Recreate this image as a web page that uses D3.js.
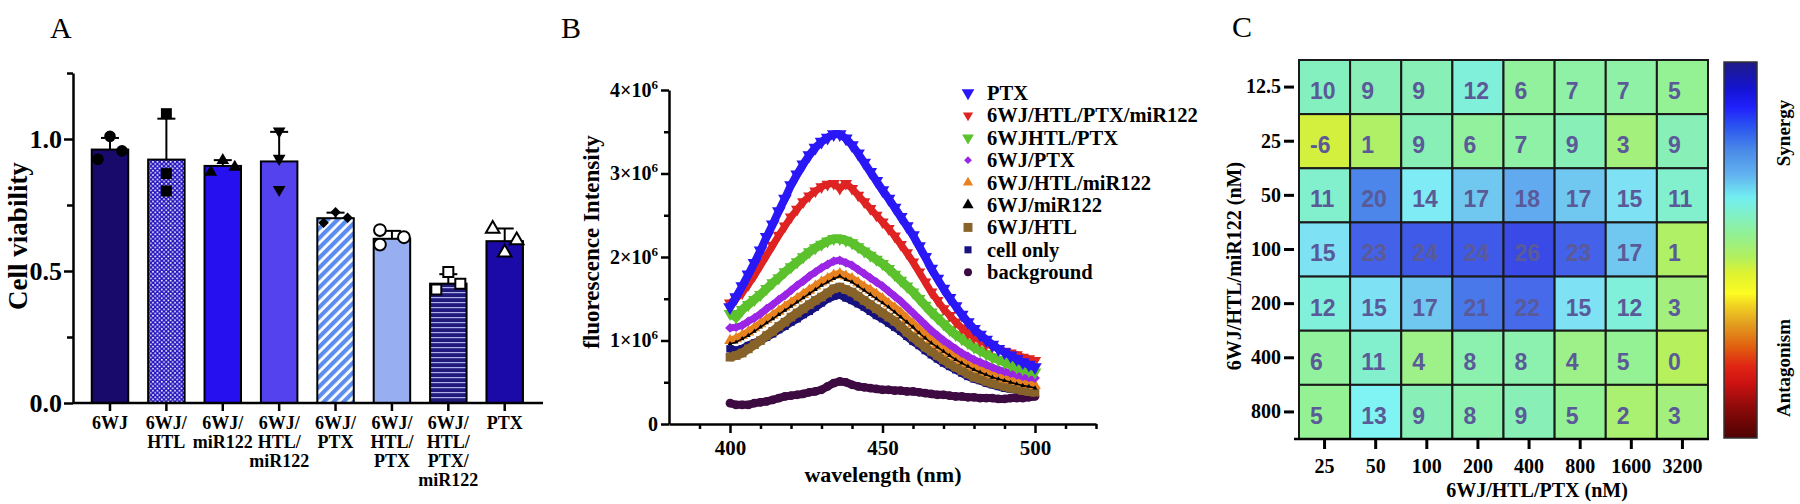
<!DOCTYPE html>
<html>
<head>
<meta charset="utf-8">
<script src="https://cdn.jsdelivr.net/npm/d3@7"></script>
<style>
  html, body { margin: 0; padding: 0; background: #fff; }
  svg { display: block; }
  text { font-family: "Liberation Serif", "Times New Roman", serif; }
</style>
</head>
<body>
<div id="chart"></div>
<script>
// ---- panel A data: cell viability ----
var groups = ['6WJ', '6WJ/HTL', '6WJ/miR122', '6WJ/HTL/miR122', '6WJ/PTX', '6WJ/HTL/PTX', '6WJ/HTL/PTX/miR122', 'PTX'];
var viability = [0.960, 0.922, 0.898, 0.915, 0.700, 0.622, 0.452, 0.613];
var viabilitySd = [0.044, 0.155, 0.022, 0.112, 0.021, 0.030, 0.036, 0.048];
var viabilityDots = [
  [0.923, 1.010, 0.955],
  [1.096, 0.869, 0.803],
  [0.875, 0.919, 0.894],
  [1.030, 0.926, 0.808],
  [0.683, 0.723, 0.702],
  [0.655, 0.600, 0.628],
  [0.496, 0.430, 0.452],
  [0.660, 0.570, 0.616]
];
var viabilityTicks = [0, 0.5, 1.0];
var viabilityMinor = [0.25, 0.75, 1.25];

// ---- panel B data: emission spectra (x10^6) ----
var wavelength = [400, 402, 404, 406, 408, 410, 412, 414, 416, 418, 420, 422, 424, 426, 428, 430, 432, 434, 436, 438,
  440, 442, 444, 446, 448, 450, 452, 454, 456, 458, 460, 462, 464, 466, 468, 470, 472, 474, 476, 478,
  480, 482, 484, 486, 488, 490, 492, 494, 496, 498, 500];
var seriesNames = ['PTX', '6WJ/HTL/PTX/miR122', '6WJHTL/PTX', '6WJ/PTX', '6WJ/HTL/miR122', '6WJ/miR122', '6WJ/HTL', 'cell only', 'background'];
var fluoPTX = [1.40, 1.52, 1.65, 1.79, 1.93, 2.08, 2.24, 2.39, 2.55, 2.70, 2.86, 2.99, 3.11, 3.22, 3.31, 3.38, 3.43, 3.47, 3.47, 3.42,
  3.34, 3.24, 3.13, 3.02, 2.91, 2.80, 2.70, 2.59, 2.48, 2.37, 2.26, 2.13, 2.00, 1.86, 1.74, 1.62, 1.51, 1.41, 1.31, 1.22,
  1.14, 1.07, 1.01, 0.95, 0.90, 0.86, 0.82, 0.78, 0.74, 0.71, 0.68];
var fluoAll = [1.45, 1.50, 1.57, 1.67, 1.78, 1.90, 2.02, 2.14, 2.26, 2.37, 2.48, 2.57, 2.66, 2.73, 2.79, 2.84, 2.87, 2.88, 2.82, 2.88,
  2.82, 2.74, 2.66, 2.58, 2.50, 2.42, 2.34, 2.25, 2.15, 2.05, 1.94, 1.82, 1.70, 1.58, 1.48, 1.38, 1.30, 1.22, 1.15, 1.09,
  1.04, 1.00, 0.96, 0.93, 0.90, 0.87, 0.85, 0.83, 0.80, 0.78, 0.76];
var fluoHtlPtx = [1.32, 1.28, 1.37, 1.43, 1.49, 1.55, 1.62, 1.69, 1.75, 1.82, 1.88, 1.94, 2.00, 2.06, 2.11, 2.15, 2.19, 2.22, 2.22, 2.20,
  2.17, 2.12, 2.07, 2.02, 1.97, 1.92, 1.86, 1.79, 1.72, 1.65, 1.58, 1.50, 1.42, 1.34, 1.27, 1.20, 1.13, 1.07, 1.02, 0.97,
  0.92, 0.88, 0.84, 0.80, 0.77, 0.74, 0.71, 0.68, 0.66, 0.64, 0.62];
var fluoPtx6wj = [1.15, 1.16, 1.18, 1.23, 1.27, 1.32, 1.38, 1.43, 1.49, 1.54, 1.60, 1.66, 1.71, 1.77, 1.82, 1.87, 1.91, 1.95, 1.96, 1.93,
  1.90, 1.85, 1.80, 1.75, 1.70, 1.65, 1.59, 1.53, 1.47, 1.40, 1.33, 1.26, 1.19, 1.12, 1.06, 1.00, 0.95, 0.90, 0.85, 0.81,
  0.77, 0.74, 0.71, 0.68, 0.65, 0.63, 0.61, 0.59, 0.57, 0.56, 0.55];
var fluoHtlMir = [1.00, 1.02, 1.06, 1.10, 1.15, 1.20, 1.25, 1.30, 1.35, 1.40, 1.45, 1.50, 1.55, 1.60, 1.65, 1.70, 1.74, 1.78, 1.80, 1.77,
  1.74, 1.69, 1.64, 1.60, 1.55, 1.50, 1.44, 1.39, 1.33, 1.26, 1.20, 1.13, 1.07, 1.01, 0.95, 0.90, 0.85, 0.80, 0.76, 0.72,
  0.68, 0.65, 0.62, 0.59, 0.57, 0.54, 0.53, 0.51, 0.49, 0.48, 0.46];
var fluoMir = [0.96, 0.98, 1.02, 1.06, 1.11, 1.16, 1.21, 1.26, 1.31, 1.36, 1.41, 1.46, 1.51, 1.56, 1.61, 1.66, 1.70, 1.74, 1.77, 1.73,
  1.70, 1.65, 1.60, 1.55, 1.50, 1.45, 1.40, 1.34, 1.28, 1.22, 1.16, 1.09, 1.03, 0.97, 0.92, 0.87, 0.82, 0.77, 0.73, 0.69,
  0.65, 0.62, 0.59, 0.56, 0.54, 0.52, 0.50, 0.48, 0.46, 0.45, 0.43];
var fluoHtl = [0.80, 0.82, 0.85, 0.90, 0.95, 1.00, 1.06, 1.11, 1.17, 1.22, 1.28, 1.33, 1.38, 1.43, 1.48, 1.52, 1.57, 1.62, 1.64, 1.61,
  1.58, 1.53, 1.48, 1.43, 1.38, 1.33, 1.28, 1.23, 1.17, 1.10, 1.04, 0.98, 0.92, 0.87, 0.82, 0.77, 0.72, 0.68, 0.64, 0.60,
  0.56, 0.54, 0.51, 0.49, 0.47, 0.45, 0.43, 0.42, 0.40, 0.39, 0.38];
var fluoCell = [0.90, 0.88, 0.90, 0.94, 0.97, 1.00, 1.04, 1.08, 1.13, 1.17, 1.22, 1.26, 1.31, 1.35, 1.40, 1.45, 1.50, 1.53, 1.55, 1.51,
  1.48, 1.44, 1.40, 1.35, 1.30, 1.26, 1.21, 1.16, 1.11, 1.05, 0.99, 0.94, 0.88, 0.83, 0.78, 0.73, 0.69, 0.65, 0.61, 0.57,
  0.54, 0.52, 0.49, 0.47, 0.45, 0.43, 0.42, 0.41, 0.40, 0.39, 0.38];
var fluoBackground = [0.25, 0.23, 0.23, 0.23, 0.25, 0.26, 0.27, 0.29, 0.31, 0.33, 0.34, 0.35, 0.36, 0.38, 0.39, 0.41, 0.45, 0.49, 0.51, 0.50,
  0.47, 0.45, 0.44, 0.43, 0.42, 0.41, 0.41, 0.40, 0.40, 0.39, 0.39, 0.38, 0.37, 0.36, 0.35, 0.35, 0.34, 0.33, 0.33, 0.32,
  0.32, 0.31, 0.31, 0.31, 0.30, 0.30, 0.31, 0.31, 0.31, 0.32, 0.33];
var fluoTicks = [0, 1, 2, 3, 4];
var fluoMinor = [0.5, 1.5, 2.5, 3.5];
var wlTicks = [400, 450, 500];
var wlMinor = [390, 410, 420, 430, 440, 460, 470, 480, 490, 510, 520];

// ---- panel C data: synergy scores ----
var ptxDose = ['25', '50', '100', '200', '400', '800', '1600', '3200'];
var mirDose = ['12.5', '25', '50', '100', '200', '400', '800'];
var synergy = [
  [10, 9, 9, 12, 6, 7, 7, 5],
  [-6, 1, 9, 6, 7, 9, 3, 9],
  [11, 20, 14, 17, 18, 17, 15, 11],
  [15, 23, 24, 24, 26, 23, 17, 1],
  [12, 15, 17, 21, 22, 15, 12, 3],
  [6, 11, 4, 8, 8, 4, 5, 0],
  [5, 13, 9, 8, 9, 5, 2, 3]
];

var serif = '"Liberation Serif", "Times New Roman", serif';
var sans = '"Liberation Sans", Arial, sans-serif';

var svg = d3.select('#chart')
    .append('svg')
        .attr('width', 1800)
        .attr('height', 504);

var defs = svg.append('defs');

// bar fill patterns
var checker = defs.append('pattern')
    .attr('id', 'checker')
    .attr('patternUnits', 'userSpaceOnUse')
    .attr('width', 4.4)
    .attr('height', 4.4);
checker.append('rect').attr('width', 4.4).attr('height', 4.4).attr('fill', '#2414bf');
checker.append('rect').attr('x', 0.4).attr('y', 0.4).attr('width', 1.6).attr('height', 1.6).attr('fill', '#fff');
checker.append('rect').attr('x', 2.6).attr('y', 2.6).attr('width', 1.6).attr('height', 1.6).attr('fill', '#fff');

var stripes = defs.append('pattern')
    .attr('id', 'stripes')
    .attr('patternUnits', 'userSpaceOnUse')
    .attr('width', 7)
    .attr('height', 7)
    .attr('patternTransform', 'rotate(45)');
stripes.append('rect').attr('width', 7).attr('height', 7).attr('fill', '#fff');
stripes.append('rect').attr('width', 4.2).attr('height', 7).attr('fill', '#5b8cef');

var hlines = defs.append('pattern')
    .attr('id', 'hlines')
    .attr('patternUnits', 'userSpaceOnUse')
    .attr('width', 5)
    .attr('height', 5);
hlines.append('rect').attr('width', 5).attr('height', 5).attr('fill', '#211a7c');
hlines.append('rect').attr('y', 2).attr('width', 5).attr('height', 1.2).attr('fill', '#a9b1e8');

// panel letters
svg.append('text').attr('x', 50).attr('y', 38).style('font-size', '30px').text('A');
svg.append('text').attr('x', 561).attr('y', 38).style('font-size', '30px').text('B');
svg.append('text').attr('x', 1232).attr('y', 37).style('font-size', '30px').text('C');

function styleAxis(g, size) {
  g.selectAll('path, line')
      .attr('stroke', '#000')
      .attr('stroke-width', 2.5);
  g.selectAll('text')
      .attr('fill', '#000')
      .style('font-family', serif)
      .style('font-weight', 'bold')
      .style('font-size', size + 'px');
}

// ================= panel A =================
var barFill = ['#180a6b', 'url(#checker)', '#2710ef', '#5442ee', 'url(#stripes)', '#97aff0', 'url(#hlines)', '#1c0aa8'];
var dotShape = [
  {type: d3.symbolCircle, size: 105, open: false, rot: 0},
  {type: d3.symbolSquare, size: 120, open: false, rot: 0},
  {type: d3.symbolTriangle, size: 70, open: false, rot: 0},
  {type: d3.symbolTriangle, size: 70, open: false, rot: 180},
  {type: d3.symbolSquare, size: 55, open: false, rot: 45},
  {type: d3.symbolCircle, size: 110, open: true, rot: 0},
  {type: d3.symbolSquare, size: 100, open: true, rot: 0},
  {type: d3.symbolTriangle, size: 80, open: true, rot: 0}
];
var dotSlots = [[-1, 0, 1], [0, 0, 0], [-1, 0, 1], [0, 0, 0], [-1, 0, 1], [-1, -1, 1], [0, -1, 1], [-1, 0, 1]];

var yA = d3.scaleLinear()
    .domain([0, 1.25])
    .range([403, 73]);
var xA = d3.scaleBand()
    .domain(groups)
    .range([81.8, 532.9])
    .paddingInner(0.353)
    .paddingOuter(0.1765);
var slotX = d3.scalePoint()
    .domain([-1, 0, 1])
    .range([-12, 12]);

var gA = svg.append('g').attr('class', 'panel-a');

gA.selectAll('rect.bar')
    .data(groups)
    .enter()
    .append('rect')
        .attr('class', 'bar')
        .attr('x', function(d) { return xA(d); })
        .attr('y', function(d, i) { return yA(viability[i]); })
        .attr('width', xA.bandwidth())
        .attr('height', function(d, i) { return yA(0) - yA(viability[i]); })
        .attr('fill', function(d, i) { return barFill[i]; })
        .attr('stroke', '#000')
        .attr('stroke-width', 2);

// error bars (upper only)
var errG = gA.selectAll('g.err')
    .data(groups)
    .enter()
    .append('g')
        .attr('class', 'err')
        .attr('stroke', '#000')
        .attr('stroke-width', 2);
errG.append('line')
    .attr('x1', function(d) { return xA(d) + xA.bandwidth() / 2; })
    .attr('x2', function(d) { return xA(d) + xA.bandwidth() / 2; })
    .attr('y1', function(d, i) { return yA(viability[i]); })
    .attr('y2', function(d, i) { return yA(viability[i] + viabilitySd[i]); });
errG.append('line')
    .attr('x1', function(d) { return xA(d) + xA.bandwidth() / 2 - 9; })
    .attr('x2', function(d) { return xA(d) + xA.bandwidth() / 2 + 9; })
    .attr('y1', function(d, i) { return yA(viability[i] + viabilitySd[i]); })
    .attr('y2', function(d, i) { return yA(viability[i] + viabilitySd[i]); });

// replicate dots
groups.forEach(function(g, i) {
  var shape = dotShape[i];
  var sym = d3.symbol().type(shape.type).size(shape.size);
  gA.selectAll('path.dot' + i)
      .data(viabilityDots[i])
      .enter()
      .append('path')
          .attr('class', 'dot' + i)
          .attr('d', sym)
          .attr('transform', function(d, j) {
            var cx = xA(g) + xA.bandwidth() / 2 + slotX(dotSlots[i][j]);
            return 'translate(' + cx + ',' + yA(d) + ') rotate(' + shape.rot + ')';
          })
          .attr('fill', shape.open ? '#fff' : '#000')
          .attr('stroke', '#000')
          .attr('stroke-width', shape.open ? 2 : 0);
});

// y axis
var yAxisA = gA.append('g')
    .attr('transform', 'translate(73,0)')
    .call(d3.axisLeft(yA)
        .tickValues(viabilityTicks)
        .tickSize(9)
        .tickPadding(2)
        .tickSizeOuter(0)
        .tickFormat(d3.format('.1f')));
styleAxis(yAxisA, 26);
var yMinorA = gA.append('g')
    .attr('transform', 'translate(73,0)')
    .call(d3.axisLeft(yA)
        .tickValues(viabilityMinor)
        .tickSize(6)
        .tickFormat(''));
yMinorA.select('.domain').remove();
styleAxis(yMinorA, 10);

// x axis
var xAxisA = gA.append('g')
    .attr('transform', 'translate(0,403)')
    .call(d3.axisBottom(xA)
        .tickSize(8)
        .tickFormat(''));
xAxisA.select('.domain').remove();
styleAxis(xAxisA, 10);
gA.append('line')
    .attr('x1', 73)
    .attr('x2', 543)
    .attr('y1', 403)
    .attr('y2', 403)
    .attr('stroke', '#000')
    .attr('stroke-width', 2.5);

// multi line category labels
gA.selectAll('text.cat')
    .data(groups)
    .enter()
    .append('text')
        .attr('class', 'cat')
        .attr('text-anchor', 'middle')
        .style('font-weight', 'bold')
        .style('font-size', '18px')
        .each(function(d) {
          var parts = d.split('/');
          var t = d3.select(this);
          parts.forEach(function(p, k) {
            t.append('tspan')
                .attr('x', xA(d) + xA.bandwidth() / 2)
                .attr('y', 429 + k * 19)
                .text(p + (k < parts.length - 1 ? '/' : ''));
          });
        });

gA.append('text')
    .attr('transform', 'translate(18,236) rotate(-90)')
    .attr('text-anchor', 'middle')
    .attr('dominant-baseline', 'central')
    .style('font-weight', 'bold')
    .style('font-size', '27px')
    .text('Cell viability');

// ================= panel B =================
var seriesValues = [fluoPTX, fluoAll, fluoHtlPtx, fluoPtx6wj, fluoHtlMir, fluoMir, fluoHtl, fluoCell, fluoBackground];
var seriesStyle = [
  {color: '#2a17f6', type: d3.symbolTriangle, rot: 180, size: 80, lw: 8, legendSize: 70},
  {color: '#df2323', type: d3.symbolTriangle, rot: 180, size: 65, lw: 7, legendSize: 45},
  {color: '#5bc12c', type: d3.symbolTriangle, rot: 180, size: 70, lw: 9, legendSize: 60},
  {color: '#9b25e4', type: d3.symbolSquare, rot: 45, size: 48, lw: 7, legendSize: 30},
  {color: '#e7811f', type: d3.symbolTriangle, rot: 0, size: 60, lw: 8, legendSize: 45},
  {color: '#000000', type: d3.symbolTriangle, rot: 0, size: 10, lw: 1.5, legendSize: 55},
  {color: '#87632a', type: d3.symbolSquare, rot: 0, size: 75, lw: 9, legendSize: 80},
  {color: '#16127f', type: d3.symbolSquare, rot: 0, size: 55, lw: 8, legendSize: 50},
  {color: '#3d0b42', type: d3.symbolCircle, rot: 0, size: 60, lw: 8, legendSize: 50}
];
var drawOrder = [8, 7, 6, 4, 5, 3, 2, 1, 0];

var xB = d3.scaleLinear()
    .domain([380, 520])
    .range([669, 1096]);
var yB = d3.scaleLinear()
    .domain([0, 4])
    .range([424, 90]);

var gB = svg.append('g').attr('class', 'panel-b');

var lineB = d3.line()
    .x(function(d, i) { return xB(wavelength[i]); })
    .y(function(d) { return yB(d); })
    .curve(d3.curveLinear);

drawOrder.forEach(function(s) {
  var st = seriesStyle[s];
  var sg = gB.append('g').attr('class', 'series');
  sg.append('path')
      .attr('d', lineB(seriesValues[s]))
      .attr('fill', 'none')
      .attr('stroke', st.color)
      .attr('stroke-width', st.lw)
      .attr('stroke-linejoin', 'round');
  var sym = d3.symbol().type(st.type).size(st.size);
  sg.selectAll('path.pt')
      .data(seriesValues[s])
      .enter()
      .append('path')
          .attr('class', 'pt')
          .attr('d', sym)
          .attr('transform', function(d, i) {
            return 'translate(' + xB(wavelength[i]) + ',' + yB(d) + ') rotate(' + st.rot + ')';
          })
          .attr('fill', st.color);
});

// axes
var yAxisB = gB.append('g')
    .attr('transform', 'translate(669,0)')
    .call(d3.axisLeft(yB)
        .tickValues(fluoTicks)
        .tickSize(8)
        .tickPadding(3)
        .tickSizeOuter(0));
styleAxis(yAxisB, 20);
yAxisB.selectAll('.tick text')
    .each(function(d) {
      var t = d3.select(this).text('');
      if(d === 0) {
        t.text('0');
        return;
      }
      t.append('tspan').text(d + '×10');
      t.append('tspan')
          .attr('dy', -8)
          .style('font-size', '13px')
          .text('6');
    });
var yMinorB = gB.append('g')
    .attr('transform', 'translate(669,0)')
    .call(d3.axisLeft(yB)
        .tickValues(fluoMinor)
        .tickSize(5)
        .tickFormat(''));
yMinorB.select('.domain').remove();
styleAxis(yMinorB, 10);

var xAxisB = gB.append('g')
    .attr('transform', 'translate(0,424)')
    .call(d3.axisBottom(xB)
        .tickValues(wlTicks)
        .tickSize(9)
        .tickPadding(7)
        .tickSizeOuter(0));
styleAxis(xAxisB, 21);
var xMinorB = gB.append('g')
    .attr('transform', 'translate(0,424)')
    .call(d3.axisBottom(xB)
        .tickValues(wlMinor)
        .tickSize(5)
        .tickFormat(''));
xMinorB.select('.domain').remove();
styleAxis(xMinorB, 10);

gB.append('text')
    .attr('x', 883)
    .attr('y', 482)
    .attr('text-anchor', 'middle')
    .style('font-weight', 'bold')
    .style('font-size', '22px')
    .text('wavelength (nm)');
gB.append('text')
    .attr('transform', 'translate(591,242) rotate(-90)')
    .attr('text-anchor', 'middle')
    .attr('dominant-baseline', 'central')
    .style('font-weight', 'bold')
    .style('font-size', '23px')
    .text('fluorescence Intensity');

// legend
var legend = gB.append('g')
    .attr('transform', 'translate(968,93)');
var legendRow = legend.selectAll('g.row')
    .data(seriesNames)
    .enter()
    .append('g')
        .attr('class', 'row')
        .attr('transform', function(d, i) { return 'translate(0,' + (i * 22.4) + ')'; });
legendRow.append('path')
    .attr('d', function(d, i) {
      return d3.symbol().type(seriesStyle[i].type).size(seriesStyle[i].legendSize)();
    })
    .attr('transform', function(d, i) { return 'rotate(' + seriesStyle[i].rot + ')'; })
    .attr('fill', function(d, i) { return seriesStyle[i].color; });
legendRow.append('text')
    .attr('x', 19)
    .attr('dominant-baseline', 'central')
    .style('font-weight', 'bold')
    .style('font-size', '20.5px')
    .text(function(d) { return d; });

// ================= panel C =================
var cellColor = d3.scaleLinear()
    .domain([-6, 0, 3, 5, 8, 10, 12, 13, 15, 17, 18, 20, 22, 24, 26])
    .range(['#d4f03e', '#b6f05c', '#a4f07c', '#95f294', '#8cf0ae', '#84f0c0', '#80f0da', '#80f4f4',
            '#7ee2f4', '#70c8f0', '#62aaf0', '#4c86ea', '#466aea', '#3f5ae8', '#3a4ae6'])
    .interpolate(d3.interpolateRgb);

var xC = d3.scaleBand()
    .domain(ptxDose)
    .range([1299, 1708]);
var yC = d3.scaleBand()
    .domain(mirDose)
    .range([60, 439]);

var gC = svg.append('g').attr('class', 'panel-c');

var cellRows = gC.selectAll('g.crow')
    .data(synergy)
    .enter()
    .append('g')
        .attr('class', 'crow')
        .attr('transform', function(d, r) { return 'translate(0,' + yC(mirDose[r]) + ')'; });
cellRows.selectAll('rect')
    .data(function(d) { return d; })
    .enter()
    .append('rect')
        .attr('x', function(d, c) { return xC(ptxDose[c]); })
        .attr('width', xC.bandwidth())
        .attr('height', yC.bandwidth())
        .attr('fill', function(d) { return cellColor(d); })
        .attr('stroke', '#1a1a1a')
        .attr('stroke-width', 2);
cellRows.selectAll('text')
    .data(function(d) { return d; })
    .enter()
    .append('text')
        .attr('x', function(d, c) { return xC(ptxDose[c]) + 11; })
        .attr('y', yC.bandwidth() / 2 + 4)
        .attr('dominant-baseline', 'central')
        .attr('fill', '#5a5a98')
        .style('font-family', sans)
        .style('font-weight', 'bold')
        .style('font-size', '23px')
        .text(function(d) { return d; });

var yAxisC = gC.append('g')
    .attr('transform', 'translate(1294,0)')
    .call(d3.axisLeft(yC)
        .tickSize(10)
        .tickPadding(3));
yAxisC.select('.domain').remove();
styleAxis(yAxisC, 20);
yAxisC.selectAll('line').attr('stroke-width', 3);

var xAxisC = gC.append('g')
    .attr('transform', 'translate(0,439)')
    .call(d3.axisBottom(xC)
        .tickSize(10)
        .tickPadding(10));
xAxisC.select('.domain').remove();
styleAxis(xAxisC, 20);
xAxisC.selectAll('line').attr('stroke-width', 3);
gC.append('line')
    .attr('x1', 1294)
    .attr('x2', 1709)
    .attr('y1', 439)
    .attr('y2', 439)
    .attr('stroke', '#000')
    .attr('stroke-width', 2.5);

gC.append('text')
    .attr('x', 1537)
    .attr('y', 497)
    .attr('text-anchor', 'middle')
    .style('font-weight', 'bold')
    .style('font-size', '20px')
    .text('6WJ/HTL/PTX (nM)');
gC.append('text')
    .attr('transform', 'translate(1234,266) rotate(-90)')
    .attr('text-anchor', 'middle')
    .attr('dominant-baseline', 'central')
    .style('font-weight', 'bold')
    .style('font-size', '20px')
    .text('6WJ/HTL/miR122 (nM)');

// colour bar
var barStops = [
  [0, '#1e1a86'], [0.075, '#1414d6'], [0.12, '#2020fc'], [0.17, '#2a52f0'], [0.235, '#4a8ae8'],
  [0.3, '#62b2f0'], [0.36, '#72eef0'], [0.405, '#80f0c8'], [0.46, '#92f092'], [0.52, '#b2f05e'],
  [0.56, '#dcf232'], [0.615, '#fcfc22'], [0.65, '#f0d022'], [0.695, '#e2a020'], [0.757, '#e06010'],
  [0.81, '#e02414'], [0.855, '#cc1212'], [0.916, '#900a0a'], [1, '#4e0202']
];
var grad = defs.append('linearGradient')
    .attr('id', 'cbar')
    .attr('x1', 0).attr('x2', 0)
    .attr('y1', 0).attr('y2', 1);
grad.selectAll('stop')
    .data(barStops)
    .enter()
    .append('stop')
        .attr('offset', function(d) { return d[0]; })
        .attr('stop-color', function(d) { return d[1]; });
gC.append('rect')
    .attr('x', 1724)
    .attr('y', 62)
    .attr('width', 33)
    .attr('height', 376)
    .attr('fill', 'url(#cbar)')
    .attr('stroke', '#333')
    .attr('stroke-width', 1.5);

gC.append('text')
    .attr('transform', 'translate(1783,133) rotate(-90)')
    .attr('text-anchor', 'middle')
    .attr('dominant-baseline', 'central')
    .style('font-weight', 'bold')
    .style('font-size', '19px')
    .text('Synergy');
gC.append('text')
    .attr('transform', 'translate(1783,368) rotate(-90)')
    .attr('text-anchor', 'middle')
    .attr('dominant-baseline', 'central')
    .style('font-weight', 'bold')
    .style('font-size', '19px')
    .text('Antagonism');
</script>
</body>
</html>
